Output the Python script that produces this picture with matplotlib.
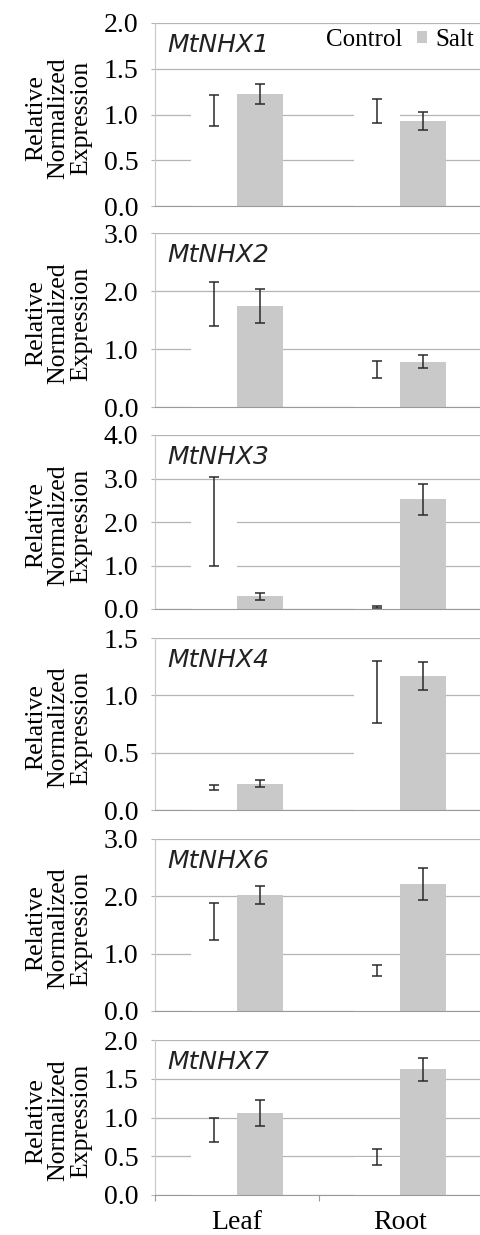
import matplotlib
matplotlib.use("Agg")
import matplotlib.pyplot as plt
from matplotlib.patches import Patch
import numpy as np

tissues = ["Leaf", "Root"]
genes = ["MtNHX1", "MtNHX2", "MtNHX3", "MtNHX4", "MtNHX6", "MtNHX7"]

# mean values, (leaf, root)
control = [[1.04, 1.04], [1.78, 0.65], [2.02, 0.04], [0.196, 1.03], [1.56, 0.70], [0.84, 0.49]]
control_err = [[0.17, 0.13], [0.38, 0.15], [1.02, 0.02], [0.022, 0.27], [0.32, 0.095], [0.15, 0.105]]
salt = [[1.22, 0.93], [1.74, 0.78], [0.29, 2.52], [0.23, 1.17], [2.02, 2.21], [1.06, 1.62]]
salt_err = [[0.11, 0.095], [0.29, 0.11], [0.075, 0.36], [0.03, 0.12], [0.16, 0.28], [0.17, 0.145]]

ymax = [2.0, 3.0, 4.0, 1.5, 3.0, 2.0]
ystep = [0.5, 1.0, 1.0, 0.5, 1.0, 0.5]

# panel (top, bottom) in pixels
boxes = [(23, 206), (233, 407), (435, 609), (638, 810), (839, 1011), (1040, 1195)]

W, H = 481, 1235
fig = plt.figure(figsize=(W / 100, H / 100), dpi=100)

serif = "Liberation Serif"
salt_col = "#c9c9c9"
grid_col = "#b4b4b4"
err_col = "#2a2a2a"
bw = 0.28
x = np.arange(len(tissues))
aw = W - 154

axes = []
for i, g in enumerate(genes):
    top, bot = boxes[i]
    ax = fig.add_axes([155 / W, 1 - bot / H, aw / W, (bot - top) / H])
    axes.append(ax)

    ax.bar(x - bw / 2, control[i], bw, color="white", zorder=2)
    ax.bar(x + bw / 2, salt[i], bw, color=salt_col, zorder=2)
    ax.errorbar(x - bw / 2, control[i], yerr=control_err[i], fmt="none",
                ecolor=err_col, elinewidth=1.1, capsize=3.5, capthick=1.1, zorder=3)
    ax.errorbar(x + bw / 2, salt[i], yerr=salt_err[i], fmt="none",
                ecolor=err_col, elinewidth=1.1, capsize=3.5, capthick=1.1, zorder=3)

    ax.set_xlim(-0.5, 1.5)
    ax.set_ylim(0, ymax[i])
    yt = np.arange(0, ymax[i] + 1e-9, ystep[i])
    ax.set_yticks(yt)
    ax.set_yticklabels(["%.1f" % v for v in yt], fontfamily=serif, fontsize=20)
    ax.yaxis.grid(True, color=grid_col, linewidth=0.9, zorder=0)
    ax.set_axisbelow(True)
    ax.tick_params(axis="y", length=3, color=grid_col, pad=9)

    for s in ["top", "right"]:
        ax.spines[s].set_visible(False)
    ax.spines["left"].set_color("#c8c8c8")
    ax.spines["bottom"].set_color("#9a9a9a")

    if i == len(genes) - 1:
        ax.set_xticks([-0.5, 0.5, 1.5])
        ax.set_xticklabels([])
        ax.set_xticks(x, minor=True)
        ax.set_xticklabels(tissues, minor=True, fontfamily=serif, fontsize=20)
        ax.tick_params(axis="x", which="major", length=4, color="#9a9a9a", direction="out")
        ax.tick_params(axis="x", which="minor", length=0, pad=11)
    else:
        ax.set_xticks([])

    ax.annotate(g, xy=(0.037, 1), xycoords="axes fraction", xytext=(0, -16),
                textcoords="offset points", va="center", ha="left",
                fontsize=18, fontstyle="italic", fontfamily="DejaVu Sans", color="#222222")

    ax.set_ylabel("Relative\nNormalized\nExpression", fontfamily=serif, fontsize=18.5,
                  linespacing=1.02)
    ax.yaxis.set_label_coords((92 - 155) / aw, 0.48)

handles = [Patch(facecolor="white", edgecolor="none"), Patch(facecolor=salt_col, edgecolor="none")]
axes[0].legend(handles, ["Control", "Salt"], loc="upper right", bbox_to_anchor=(1.045, 1.09),
               ncol=2, frameon=False, prop={"family": serif, "size": 18},
               handlelength=0.38, handleheight=0.38, handletextpad=0.35, columnspacing=0.6)

fig.savefig("out.png", dpi=100)
